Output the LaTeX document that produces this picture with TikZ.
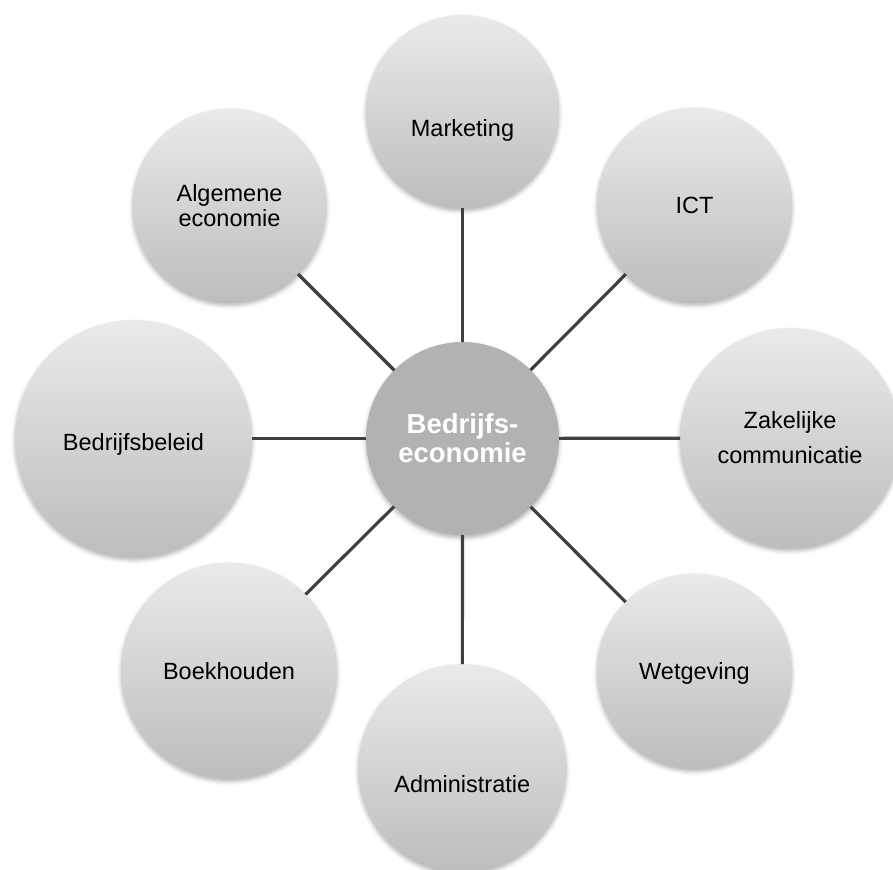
\documentclass[tikz,border=0pt]{standalone}
\usepackage{fontspec}
\setmainfont{Liberation Sans}
\usetikzlibrary{shadows.blur}
\definecolor{topc}{RGB}{234,234,234}
\definecolor{botc}{RGB}{189,189,189}
\definecolor{hubc}{RGB}{178,178,178}
\definecolor{linec}{RGB}{64,64,64}
\begin{document}
\begin{tikzpicture}[x=1pt,y=-1pt,
  softshadow/.style={blur shadow={shadow xshift=0pt, shadow yshift=-3pt, shadow blur radius=4pt, shadow opacity=30}},
  outer/.style={circle, inner sep=0pt, outer sep=0pt, top color=topc, bottom color=botc, draw=none,
    font=\fontsize{23.5}{25}\selectfont, text=black, softshadow},
  hub/.style={circle, inner sep=0pt, outer sep=0pt, fill=hubc, minimum size=193pt, text=white,
    font=\bfseries\fontsize{27.5}{29}\selectfont, align=center, softshadow},
  link/.style={draw=linec, line width=3.2pt}]
\useasboundingbox (0,0) rectangle (893,869);
\clip (0,0) rectangle (893,869);

\node[hub] (hub) at (462.5,438.5) {Bedrijfs-\\economie};
\node[outer, minimum size=193pt, text height=50.4pt, text depth=0pt] (mkt) at (462.5,111.5) {Marketing};
\node[outer, minimum size=195pt, text height=16.6pt, text depth=0pt] (ict) at (694.5,205) {ICT};
\node[outer, minimum size=220pt, align=center, font=\fontsize{23.5}{35}\selectfont] (zak) at (790,438) {Zakelijke\\communicatie};
\node[outer, minimum size=195pt, text height=16pt, text depth=0pt] (wet) at (694.5,671) {Wetgeving};
\node[outer, minimum size=208pt, text height=48.6pt, text depth=0pt] (adm) at (462.3,768) {Administratie};
\node[outer, minimum size=216pt, text height=17pt, text depth=0pt] (boe) at (229,670.5) {Boekhouden};
\node[outer, minimum size=237pt, text height=23pt, text depth=0pt] (bed) at (133.5,438.5) {Bedrijfsbeleid};
\node[outer, minimum size=194pt, align=center] (alg) at (229.5,205.5) {Algemene\\economie};

\draw[link] (hub) -- (mkt);
\draw[link] (hub) -- (ict);
\draw[link] (hub) -- (zak);
\draw[link] (hub) -- (wet);
\draw[link] (hub) -- (adm);
\draw[link] (hub) -- (boe);
\draw[link] (hub) -- (bed);
\draw[link] (hub) -- (alg);
\end{tikzpicture}
\end{document}
